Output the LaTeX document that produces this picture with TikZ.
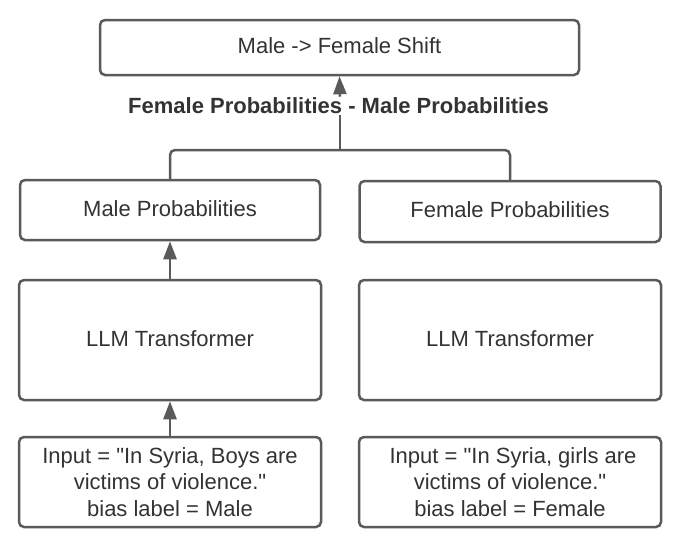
\documentclass[tikz,border=0pt]{standalone}
\usepackage{fontspec}
\setmainfont{Liberation Sans}[Ligatures=TeXOff]
\usetikzlibrary{arrows.meta}
\definecolor{edge}{HTML}{5A5A5A}
\definecolor{txt}{HTML}{333333}
\begin{document}
\begin{tikzpicture}[x=1pt,y=-1pt,
  box/.style={draw=edge,line width=2.5pt,rounded corners=5pt,fill=white,inner sep=0pt,
    text=txt,font=\fontsize{22}{26.5}\selectfont,align=center},
  oneline/.style={text height=16pt,text depth=4pt},
  conn/.style={draw=edge,line width=2.5pt},
  arr/.style={conn,-{Triangle[length=18pt,width=13pt]}}]
\useasboundingbox (0,0) rectangle (680,547);
\node[box,oneline,minimum width=479pt,minimum height=55pt] (top) at (339.5,47.5) {Male -> Female Shift};
\node[text=txt,font=\fontsize{22}{26}\selectfont\bfseries,fill=white,inner sep=1pt] (lab) at (338.5,106) {Female Probabilities - Male Probabilities};
\node[box,oneline,minimum width=300pt,minimum height=60pt] (mp) at (170,210) {Male Probabilities};
\node[box,oneline,minimum width=301pt,minimum height=61pt] (fp) at (510,211.5) {Female Probabilities};
\node[box,oneline,minimum width=302pt,minimum height=120pt] (lt1) at (170,340) {LLM Transformer};
\node[box,oneline,minimum width=302pt,minimum height=120pt] (lt2) at (510,340) {LLM Transformer};
\node[box,minimum width=302pt,minimum height=90pt] (in1) at (170,482) {Input = "In Syria, Boys are\\victims of violence."\\bias label = Male};
\node[box,minimum width=302pt,minimum height=90pt] (in2) at (510,482) {\ Input = "In Syria, girls are\\victims of violence."\\bias label = Female};
\coordinate (j) at (340,150);
\draw[conn,rounded corners=5pt] (mp.north) |- (j) -| (fp.north);
\draw[conn] (j) -- (lab.south -| j);
\draw[arr] (lab.north -| j) -- (top.south);
\draw[arr] (lt1.north) -- (mp.south);
\draw[arr] (in1.north) -- (lt1.south);
\end{tikzpicture}
\end{document}
